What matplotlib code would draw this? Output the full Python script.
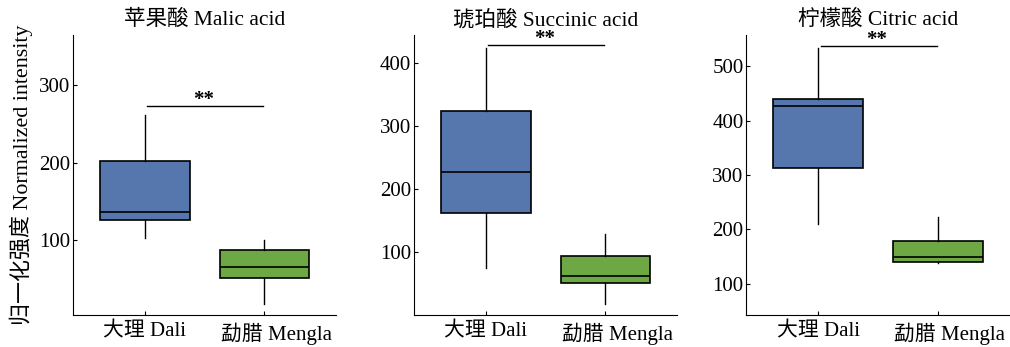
import matplotlib
matplotlib.use('Agg')
import matplotlib.pyplot as plt
from matplotlib.transforms import ScaledTranslation

plt.rcParams['font.family'] = ['Liberation Serif', 'Noto Sans CJK SC']

# groups and per-acid box statistics
groups = ['大理 Dali', '勐腊 Mengla']
titles = ['苹果酸 Malic acid', '琥珀酸 Succinic acid', '柠檬酸 Citric acid']

# each row: [whisker low, q1, median, q3, whisker high] for Dali, Mengla
malic = [[103, 126, 136, 202, 262], [18, 51, 66, 87, 100]]
succinic = [[75, 163, 228, 325, 424], [18, 51, 63, 95, 130]]
citric = [[210, 313, 426, 440, 533], [139, 141, 150, 179, 222]]
acids = [malic, succinic, citric]

sig_y = [273, 429, 537]
ylims = [(3, 365), (0, 445), (42, 557)]
yticks = [[100, 200, 300], [100, 200, 300, 400], [100, 200, 300, 400, 500]]

colors = ['#5676ae', '#6ea844']
lefts = [0.0723, 0.410, 0.739]

fig = plt.figure(figsize=(10.1, 3.47), dpi=100)

for i, acid in enumerate(acids):
    ax = fig.add_axes([lefts[i], 0.091, 0.2605, 0.808])
    stats = []
    for g, v in zip(groups, acid):
        stats.append(dict(label=g, whislo=v[0], q1=v[1], med=v[2], q3=v[3], whishi=v[4], fliers=[]))
    bp = ax.bxp(stats, positions=[1, 2], widths=0.75, patch_artist=True, showcaps=False,
                boxprops=dict(linewidth=1.2, edgecolor='black'),
                medianprops=dict(color='black', linewidth=1.2),
                whiskerprops=dict(color='black', linewidth=1.0))
    for patch, c in zip(bp['boxes'], colors):
        patch.set_facecolor(c)

    # significance bar
    ax.plot([1.02, 1.99], [sig_y[i], sig_y[i]], color='black', linewidth=1.0)
    ax.annotate('**', xy=(1.49, sig_y[i]), xytext=(0, 1), textcoords='offset points',
                ha='center', va='baseline', fontsize=15, fontweight='bold')

    ax.set_xlim(0.4, 2.6)
    ax.set_ylim(*ylims[i])
    ax.set_yticks(yticks[i])
    ax.spines['top'].set_visible(False)
    ax.spines['right'].set_visible(False)
    ax.tick_params(direction='in', length=3, labelsize=15, pad=2)
    ax.tick_params(axis='x', labelsize=15, pad=5)
    # second label sits a bit right of its tick in the original
    lab = ax.get_xticklabels()[1]
    lab.set_transform(lab.get_transform() + ScaledTranslation(0.12, 0, fig.dpi_scale_trans))
    ax.set_title(titles[i], fontsize=15.5, pad=7)

    if i == 0:
        ax.set_ylabel('归一化强度 Normalized intensity', fontsize=15.8, labelpad=4)

fig.savefig('out.png', dpi=100)
